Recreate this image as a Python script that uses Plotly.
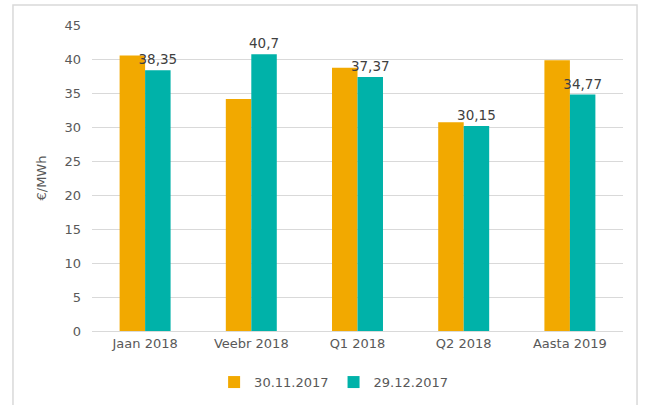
import plotly.graph_objects as go

categories = ["Jaan 2018", "Veebr 2018", "Q1 2018", "Q2 2018", "Aasta 2019"]
series_nov = [40.5, 34.1, 38.7, 30.7, 39.8]
series_dec = [38.35, 40.7, 37.37, 30.15, 34.77]
name_nov = "30.11.2017"
name_dec = "29.12.2017"
y_ticks = [0, 5, 10, 15, 20, 25, 30, 35, 40, 45]

FONT = "DejaVu Sans"
ORANGE = "#F2A900"
TEAL = "#00B2A9"

fig = go.Figure()
fig.add_trace(go.Bar(
    x=categories, y=series_nov, name=name_nov,
    marker=dict(color=ORANGE, line=dict(width=0)),
))
fig.add_trace(go.Bar(
    x=categories, y=series_dec, name=name_dec,
    marker=dict(color=TEAL, line=dict(width=0)),
    text=[str(v).replace(".", ",") for v in series_dec],
    textposition="outside",
    constraintext="none",
    textfont=dict(family=FONT, size=13.5, color="#404040"),
    cliponaxis=False,
))

fig.update_layout(
    width=645, height=405,
    margin=dict(l=92, r=22, t=25, b=74, autoexpand=False),
    paper_bgcolor="white", plot_bgcolor="white",
    barmode="group", bargap=0.52, bargroupgap=0,
    font=dict(family=FONT, size=13, color="#595959"),
    showlegend=True,
    legend=dict(orientation="h", x=0.455, xanchor="center", y=-0.167, yanchor="middle",
                font=dict(family=FONT, size=13, color="#595959"),
                itemwidth=30, traceorder="normal"),
    xaxis=dict(showgrid=False, showline=True, linecolor="#D9D9D9", linewidth=1,
               ticks="", automargin=False, tickfont=dict(size=13, color="#595959")),
    yaxis=dict(range=[0, 45], tickvals=y_ticks, showgrid=True, gridcolor="#D9D9D9",
               gridwidth=1, zeroline=False, showline=False, ticks="", automargin=False,
               tickfont=dict(size=13, color="#595959"), ticklabelstandoff=10,
               title=dict(text="€/MWh", font=dict(size=13, color="#595959"), standoff=14)),
    shapes=[dict(type="rect", xref="paper", yref="paper",
                 x0=-0.1488, x1=1.0264, y0=-0.26, y1=1.0654,
                 line=dict(color="#D9D9D9", width=1.5), fillcolor="rgba(0,0,0,0)", layer="below")],
)

fig.write_html("out.html", config={"displayModeBar": False},
               post_script="document.body.style.margin='0';document.body.style.overflow='hidden';")
